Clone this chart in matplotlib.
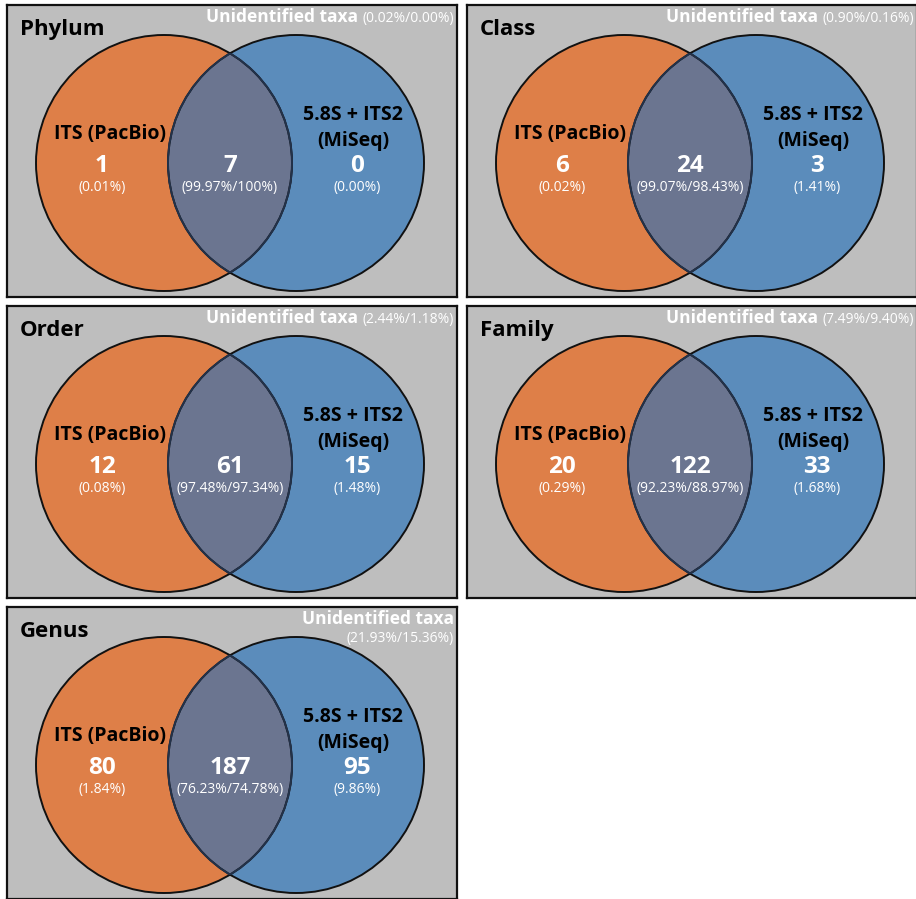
import matplotlib
matplotlib.use("Agg")
import matplotlib.pyplot as plt
from matplotlib.patches import Circle

# OTU counts per taxonomic rank: PacBio only / shared / MiSeq only
ranks = ["Phylum", "Class", "Order", "Family", "Genus"]
only_pacbio = [1, 6, 12, 20, 80]
shared = [7, 24, 61, 122, 187]
only_miseq = [0, 3, 15, 33, 95]

# relative abundance (%) of each region
pct_only_pacbio = [0.01, 0.02, 0.08, 0.29, 1.84]
pct_shared_pacbio = [99.97, 99.07, 97.48, 92.23, 76.23]
pct_shared_miseq = [100, 98.43, 97.34, 88.97, 74.78]
pct_only_miseq = [0.00, 1.41, 1.48, 1.68, 9.86]
unident_pacbio = [0.02, 0.90, 2.44, 7.49, 21.93]
unident_miseq = [0.00, 0.16, 1.18, 9.40, 15.36]

ORANGE = "#de7f48"
BLUE = "#5b8cbb"
OVERLAP = "#6b7590"
GRAY = "#bebebe"
FONT = ["Open Sans", "DejaVu Sans"]

W, H = 916, 899
PW, PH = 450, 292


def pct(v):
    return f"{v:.0f}%" if v == 100 else f"{v:.2f}%"


fig = plt.figure(figsize=(W / 100, H / 100), dpi=100)
fig.patch.set_facecolor("white")

for i, rank in enumerate(ranks):
    col, row = i % 2, i // 2
    x0, y0 = 7 + col * 460, 5 + row * 301
    ax = fig.add_axes([x0 / W, 1 - (y0 + PH) / H, PW / W, PH / H])
    ax.set_xlim(0, PW)
    ax.set_ylim(PH, 0)
    ax.set_xticks([]); ax.set_yticks([])
    ax.set_facecolor(GRAY)
    for s in ax.spines.values():
        s.set_linewidth(1.6)
        s.set_color("#111111")

    cl, cr, cy, r = 157, 289, 158, 128
    left = Circle((cl, cy), r, facecolor=ORANGE, edgecolor="none")
    right = Circle((cr, cy), r, facecolor=BLUE, edgecolor="none")
    ax.add_patch(left)
    ax.add_patch(right)
    lens = Circle((cl, cy), r, facecolor=OVERLAP, edgecolor="none")
    ax.add_patch(lens)
    lens.set_clip_path(right)
    ax.add_patch(Circle((cl, cy), r, fill=False, edgecolor="#111111", lw=1.4))
    ax.add_patch(Circle((cr, cy), r, fill=False, edgecolor="#111111", lw=1.4))
    # arcs inside the overlap are a bit softer
    inner_l = Circle((cl, cy), r, fill=False, edgecolor="#23324a", lw=1.4)
    inner_r = Circle((cr, cy), r, fill=False, edgecolor="#23324a", lw=1.4)
    ax.add_patch(inner_l); inner_l.set_clip_path(right)
    ax.add_patch(inner_r); inner_r.set_clip_path(left)

    ax.text(13, 30, rank, fontsize=16, fontweight="bold", family=FONT,
            color="black", va="baseline", ha="left")

    # unidentified share, top right
    if i < 4:
        t = ax.text(447, 17, f"({pct(unident_pacbio[i])}/{pct(unident_miseq[i])})",
                    fontsize=10, color="white", family=FONT,
                    ha="right", va="baseline")
        ax.annotate("Unidentified taxa", xy=(0, 17), xycoords=(t, "data"),
                    xytext=(-3, 0), textcoords="offset points",
                    fontsize=12.5, fontweight="bold", color="white", family=FONT,
                    ha="right", va="baseline")
    else:
        ax.text(447, 17, "Unidentified taxa", fontsize=12.5, fontweight="bold",
                color="white", family=FONT, ha="right", va="baseline")
        ax.text(447, 35, f"({pct(unident_pacbio[i])}/{pct(unident_miseq[i])})",
                fontsize=10, color="white", family=FONT, ha="right", va="baseline")

    ax.text(103, 134, "ITS (PacBio)", fontsize=14, fontweight="bold",
            family=FONT, color="black", ha="center", va="baseline")
    ax.text(346, 115, "5.8S + ITS2", fontsize=14, fontweight="bold",
            family=FONT, color="black", ha="center", va="baseline")
    ax.text(346, 141, "(MiSeq)", fontsize=14, fontweight="bold",
            family=FONT, color="black", ha="center", va="baseline")

    for xc, n, p in [(95, only_pacbio[i], pct(pct_only_pacbio[i])),
                     (223, shared[i], f"{pct(pct_shared_pacbio[i])}/{pct(pct_shared_miseq[i])}"),
                     (350, only_miseq[i], pct(pct_only_miseq[i]))]:
        ax.text(xc, 167, str(n), fontsize=17.5, fontweight="bold", family=FONT,
                color="white", ha="center", va="baseline")
        ax.text(xc, 186, f"({p})", fontsize=10, family=FONT,
                color="white", ha="center", va="baseline")

fig.savefig("out.png", dpi=100)
